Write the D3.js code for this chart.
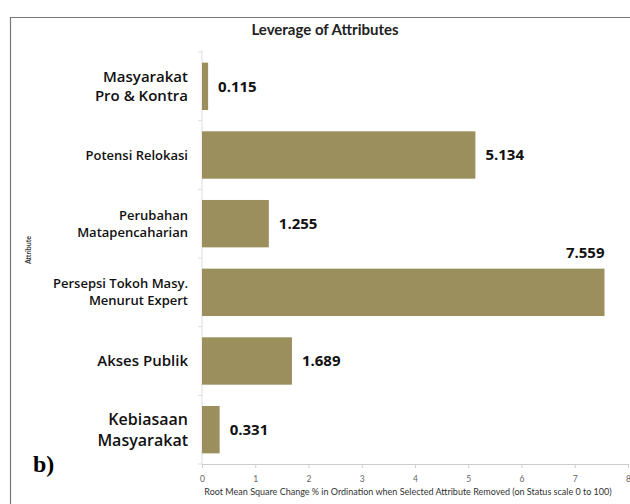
<!DOCTYPE html>
<html>
<head>
<meta charset="UTF-8">
<script src="https://cdn.jsdelivr.net/npm/d3@7"></script>
<style>
  body { margin: 0; background: #fff; }
  svg { display: block; }
</style>
</head>
<body>
<svg id="chart" width="630" height="504"></svg>
<script>
// data
const attributes = [
  ["Masyarakat", "Pro & Kontra"],
  ["Potensi Relokasi"],
  ["Perubahan", "Matapencaharian"],
  ["Persepsi Tokoh Masy.", "Menurut Expert"],
  ["Akses Publik"],
  ["Kebiasaan", "Masyarakat"]
];
const leverage = [0.115, 5.134, 1.255, 7.559, 1.689, 0.331];
const xTicks = [0, 1, 2, 3, 4, 5, 6, 7, 8];

// label styling (the source mixes font sizes)
const labelSize = [15, 13, 13, 13, 15, 16];
const labelWeight = [600, 600, 600, 600, 600, 600];

const svg = d3.select("#chart");
const margin = { top: 52, left: 202, right: 2, bottom: 40 };
const W = 630, H = 504;

// frame
svg.append("path")
  .attr("d", "M10.5," + H + " V17.5 H" + W)
  .attr("fill", "none")
  .attr("stroke", "#777")
  .attr("stroke-width", 1.2);

const x = d3.scaleLinear().domain([0, 8]).range([margin.left, 628]);
const y = d3.scaleBand().domain(d3.range(attributes.length))
  .range([margin.top, 464]).paddingInner(0.31).paddingOuter(0.155);

// title
svg.append("text")
  .attr("x", 325).attr("y", 35)
  .attr("text-anchor", "middle")
  .attr("font-family", "Lato, 'Open Sans', sans-serif")
  .attr("font-size", 15).attr("font-weight", 700)
  .attr("fill", "#222")
  .text("Leverage of Attributes");

// y axis line + ticks between bands
svg.append("line")
  .attr("x1", x(0)).attr("x2", x(0))
  .attr("y1", margin.top - 2).attr("y2", 464)
  .attr("stroke", "#ddd");
const bandEdges = d3.range(attributes.length + 1).map(i => margin.top + i * (464 - margin.top) / attributes.length);
svg.selectAll(".ytick").data(bandEdges).join("line")
  .attr("x1", x(0) - 4).attr("x2", x(0))
  .attr("y1", d => d).attr("y2", d => d)
  .attr("stroke", "#ddd");

// x axis
const xAxis = svg.append("g")
  .attr("transform", "translate(0,464)")
  .call(d3.axisBottom(x).tickValues(xTicks).tickSize(4).tickFormat(d3.format("d")));
xAxis.select(".domain").attr("stroke", "#ccc");
xAxis.selectAll(".tick line").attr("stroke", "#ccc");
xAxis.selectAll("text")
  .attr("font-family", "Lato, sans-serif")
  .attr("font-size", 8.5).attr("fill", "#666").attr("dy", "1.3em");

svg.append("text")
  .attr("x", 408).attr("y", 495)
  .attr("text-anchor", "middle")
  .attr("font-family", "Lato, sans-serif")
  .attr("font-size", 9).attr("fill", "#333")
  .text("Root Mean Square Change % in Ordination when Selected Attribute Removed (on Status scale 0 to 100)");

svg.append("text")
  .attr("transform", "translate(31,250) rotate(-90)")
  .attr("text-anchor", "middle")
  .attr("font-family", "Lato, sans-serif")
  .attr("font-size", 7).attr("font-weight", 700).attr("fill", "#333")
  .text("Attribute");

// bars
svg.selectAll(".bar").data(leverage).join("rect")
  .attr("x", x(0))
  .attr("y", (d, i) => y(i))
  .attr("width", d => x(d) - x(0))
  .attr("height", y.bandwidth())
  .attr("fill", "#9c8f5e");

// value labels
svg.selectAll(".val").data(leverage).join("text")
  .attr("x", d => d > 7 ? x(d) : x(d) + 10)
  .attr("y", (d, i) => d > 7 ? y(i) - 16 : y(i) + y.bandwidth() / 2)
  .attr("dy", "0.35em")
  .attr("text-anchor", d => d > 7 ? "end" : "start")
  .attr("font-family", "'Open Sans', sans-serif")
  .attr("font-size", 15).attr("font-weight", 700).attr("fill", "#111")
  .text(d => d3.format(".3f")(d));

// category labels
attributes.forEach((lines, i) => {
  const t = svg.append("text")
    .attr("text-anchor", "end")
    .attr("font-family", "'Open Sans', sans-serif")
    .attr("font-size", labelSize[i]).attr("font-weight", labelWeight[i])
    .attr("fill", "#111");
  const lh = labelSize[i] * 1.3;
  const cy = y(i) + y.bandwidth() / 2 - (lines.length - 1) * lh / 2;
  lines.forEach((s, k) => {
    t.append("tspan").attr("x", 188).attr("y", cy + k * lh).attr("dy", "0.35em").text(s);
  });
});

// panel letter
svg.append("text")
  .attr("x", 33).attr("y", 472)
  .attr("font-family", "'Liberation Serif', serif")
  .attr("font-size", 24).attr("font-weight", 700)
  .text("b)");
</script>
</body>
</html>
